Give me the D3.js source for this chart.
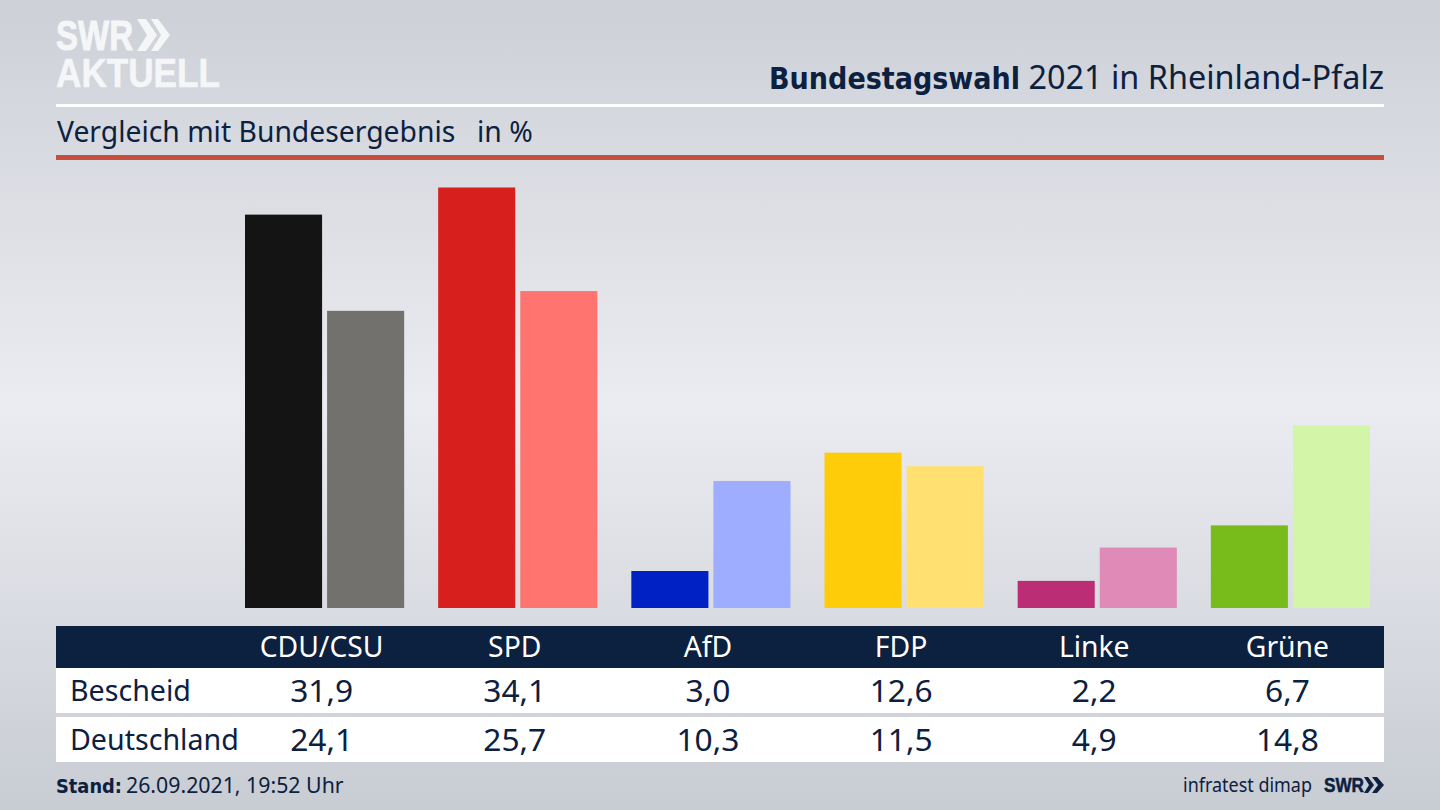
<!DOCTYPE html>
<html>
  <head>
    <title>Bundestagswahl 2021 in Rheinland-Pfalz</title>
    <meta charset="utf-8" />
    <script src="https://cdn.jsdelivr.net/npm/d3@7"></script>
    <style>
      html, body { margin: 0; padding: 0; background: #d5d8de; }
      svg { display: block; font-family: "Noto Sans", sans-serif; }
    </style>
  </head>
  <body>
    <svg id="chart" width="1440" height="810"></svg>

    <script>
      const parties = ["CDU/CSU", "SPD", "AfD", "FDP", "Linke", "Grüne"]
      const rows = ["Bescheid", "Deutschland"]
      const bescheid = [31.9, 34.1, 3.0, 12.6, 2.2, 6.7]
      const deutschland = [24.1, 25.7, 10.3, 11.5, 4.9, 14.8]
      const colorsBescheid = ["#141414", "#d7201e", "#0021c4", "#ffcc0a", "#bb2e75", "#78bc1c"]
      const colorsDeutschland = ["#72716e", "#ff746f", "#9eadff", "#ffe070", "#e08ab8", "#d2f5a8"]

      const navy = "#0c203f"
      const svg = d3.select("#chart")
      const defs = svg.append("defs")

      const bg = defs.append("linearGradient")
        .attr("id", "bg").attr("x1", 0).attr("y1", 0).attr("x2", 0).attr("y2", 1)
      bg.append("stop").attr("offset", "0%").attr("stop-color", "#cdd0d7")
      bg.append("stop").attr("offset", "50%").attr("stop-color", "#ebecf1")
      bg.append("stop").attr("offset", "100%").attr("stop-color", "#c8ccd3")

      svg.append("rect").attr("width", 1440).attr("height", 810).attr("fill", "url(#bg)")

      // scales
      const x = d3.scaleBand().domain(parties).range([245, 1370]).paddingInner(0.176)
      const xInner = d3.scaleBand().domain([0, 1]).range([0, x.bandwidth()]).paddingInner(0.061)
      const y = d3.scaleLinear().domain([0, 34.1]).range([608, 187.5])
      const col = party => x(party) + x.bandwidth() / 2 - 3

      // bars
      const series = [
        { values: bescheid, colors: colorsBescheid },
        { values: deutschland, colors: colorsDeutschland },
      ]
      series.forEach((s, i) => {
        svg.append("g").selectAll("rect")
          .data(parties)
          .join("rect")
          .attr("x", d => x(d) + xInner(i))
          .attr("y", (d, k) => y(s.values[k]))
          .attr("width", xInner.bandwidth())
          .attr("height", (d, k) => y(0) - y(s.values[k]))
          .attr("fill", (d, k) => s.colors[k])
      })

      // header
      svg.append("rect").attr("x", 56).attr("y", 104).attr("width", 1328).attr("height", 3).attr("fill", "#fff")
      svg.append("rect").attr("x", 56).attr("y", 155).attr("width", 1328).attr("height", 5).attr("fill", "#c84f3e")

      svg.append("text")
        .attr("x", 769).attr("y", 89)
        .attr("font-family", "'DejaVu Sans', sans-serif").attr("font-weight", 700).attr("font-size", 30)
        .attr("fill", navy).attr("textLength", 251).attr("lengthAdjust", "spacingAndGlyphs")
        .text("Bundestagswahl")
      svg.append("text")
        .attr("x", 1384).attr("y", 89).attr("text-anchor", "end")
        .attr("font-size", 32.4).attr("fill", navy)
        .text("2021 in Rheinland-Pfalz")

      svg.append("text").attr("x", 57).attr("y", 142)
        .attr("font-size", 28.3).attr("fill", navy)
        .text("Vergleich mit Bundesergebnis")
      svg.append("text").attr("x", 477).attr("y", 142)
        .attr("font-size", 28.3).attr("fill", navy).text("in %")

      // logo
      const logo = svg.append("g")
        .attr("fill", "#f5f6f8").attr("stroke", "#f5f6f8")
        .attr("font-family", "'Liberation Sans', sans-serif").attr("font-weight", 700)
      logo.append("text").attr("x", 56).attr("y", 50).attr("font-size", 42).attr("stroke-width", 1)
        .attr("textLength", 77).attr("lengthAdjust", "spacingAndGlyphs").text("SWR")
      logo.append("text").attr("x", 56).attr("y", 87).attr("font-size", 40).attr("stroke-width", 0.6)
        .attr("textLength", 164).attr("lengthAdjust", "spacingAndGlyphs").text("AKTUELL")
      const chevron = d3.line()
      logo.append("path").attr("stroke", "none").attr("d", chevron([[137, 19], [146, 19], [157, 35], [146, 51], [137, 51], [147, 35]]) + "Z")
      logo.append("path").attr("stroke", "none").attr("d", chevron([[151, 19], [158, 19], [170, 35], [158, 51], [151, 51], [161, 35]]) + "Z")

      // table
      svg.append("rect").attr("x", 56).attr("y", 626).attr("width", 1328).attr("height", 42).attr("fill", navy)
      svg.append("rect").attr("x", 56).attr("y", 668).attr("width", 1328).attr("height", 45).attr("fill", "#fff")
      svg.append("rect").attr("x", 56).attr("y", 717).attr("width", 1328).attr("height", 45).attr("fill", "#fff")

      svg.append("g").selectAll("text")
        .data(parties)
        .join("text")
        .attr("x", d => col(d)).attr("y", 657)
        .attr("text-anchor", "middle").attr("font-size", 28.3).attr("fill", "#fff")
        .text(d => d)

      const fmt = v => v.toFixed(1).replace(".", ",")
      const rowY = [701.5, 750.5]
      series.forEach((s, i) => {
        svg.append("text").attr("x", 70).attr("y", rowY[i] - 1)
          .attr("font-size", 28.6).attr("fill", navy).text(rows[i])
        svg.append("g").selectAll("text")
          .data(parties)
          .join("text")
          .attr("x", d => col(d)).attr("y", rowY[i])
          .attr("text-anchor", "middle").attr("font-size", 31.7).attr("fill", navy)
          .text((d, k) => fmt(s.values[k]))
      })

      // footer
      svg.append("text").attr("x", 56).attr("y", 793)
        .attr("font-family", "'DejaVu Sans', sans-serif").attr("font-weight", 700).attr("font-size", 20)
        .attr("fill", navy).attr("textLength", 66).attr("lengthAdjust", "spacingAndGlyphs").text("Stand:")
      svg.append("text").attr("x", 126).attr("y", 793).attr("font-size", 21.3).attr("fill", navy)
        .text("26.09.2021, 19:52 Uhr")

      svg.append("text").attr("x", 1183).attr("y", 792)
        .attr("font-size", 20).attr("fill", navy)
        .attr("textLength", 129).attr("lengthAdjust", "spacingAndGlyphs").text("infratest dimap")
      svg.append("text").attr("x", 1324).attr("y", 792)
        .attr("font-family", "'Liberation Sans', sans-serif").attr("font-weight", 700)
        .attr("font-size", 20).attr("fill", navy).attr("stroke", navy).attr("stroke-width", 0.5)
        .attr("textLength", 40).attr("lengthAdjust", "spacingAndGlyphs").text("SWR")
      const small = svg.append("g").attr("fill", navy)
      small.append("path").attr("d", chevron([[1364, 777], [1368, 777], [1374, 785], [1368, 793], [1364, 793], [1369, 785]]) + "Z")
      small.append("path").attr("d", chevron([[1372, 777], [1377, 777], [1384, 785], [1377, 793], [1372, 793], [1378, 785]]) + "Z")
    </script>
  </body>
</html>
